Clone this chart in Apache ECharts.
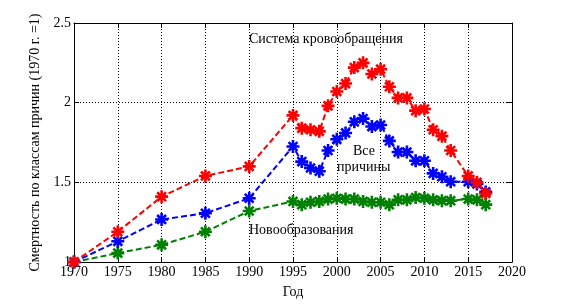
<!DOCTYPE html>
<html>
<head>
<meta charset="utf-8">
<script src="https://cdn.jsdelivr.net/npm/echarts@6/dist/echarts.min.js"></script>
<style>
  html, body { margin: 0; padding: 0; background: #fff; }
  #chart { width: 568px; height: 304px; }
</style>
</head>
<body>
<div id="chart"></div>
<script>
// годы наблюдений (2014 нет)
var years = [1970, 1975, 1980, 1985, 1990, 1995, 1996, 1997, 1998, 1999, 2000, 2001, 2002,
             2003, 2004, 2005, 2006, 2007, 2008, 2009, 2010, 2011, 2012, 2013, 2015, 2016, 2017];

// система кровообращения
var krov = [1.00, 1.19, 1.41, 1.54, 1.60, 1.92, 1.84, 1.83, 1.82, 1.98, 2.07, 2.12, 2.22,
            2.25, 2.18, 2.21, 2.10, 2.03, 2.03, 1.95, 1.96, 1.83, 1.79, 1.70, 1.54, 1.50, 1.43];
// все причины
var vse = [1.00, 1.13, 1.267, 1.306, 1.40, 1.725, 1.63, 1.59, 1.57, 1.70, 1.77, 1.81, 1.88,
           1.90, 1.85, 1.86, 1.76, 1.69, 1.69, 1.635, 1.635, 1.556, 1.535, 1.504, 1.504, 1.49, 1.44];
// новообразования
var novo = [1.00, 1.056, 1.108, 1.19, 1.32, 1.38, 1.36, 1.375, 1.38, 1.395, 1.40, 1.395, 1.395,
            1.38, 1.375, 1.375, 1.36, 1.39, 1.39, 1.405, 1.40, 1.39, 1.385, 1.385, 1.395, 1.39, 1.36];

var yTicks = { 1: '1', 1.5: '1.5', 2: '2', 2.5: '2.5' };

var chart = echarts.init(document.getElementById('chart'));

var FONT = '"Liberation Serif", "DejaVu Serif", serif';
var star = 'path://M0,5L10,5M5,0L5,10M1.6,1.6L8.4,8.4M1.6,8.4L8.4,1.6';

function pairs(vals) {
  return years.map(function (y, i) { return [y, vals[i]]; });
}

function ser(name, color, vals, z) {
  return {
    name: name,
    type: 'line',
    z: z,
    data: pairs(vals),
    symbol: star,
    symbolSize: 13,
    showAllSymbol: true,
    itemStyle: { color: 'none', borderColor: color, borderWidth: 2.6 },
    lineStyle: { color: color, width: 2, type: [6, 3] },
    animation: false
  };
}

var option = {
  backgroundColor: '#fff',
  animation: false,
  grid: { left: 74, right: 56, top: 23, bottom: 41 },
  xAxis: [{
    type: 'value', min: 1970, max: 2020, interval: 5,
    name: 'Год', nameLocation: 'middle', nameGap: 23,
    nameTextStyle: { fontFamily: FONT, fontSize: 14, color: '#000' },
    axisLine: { lineStyle: { color: '#000', width: 1 } },
    axisTick: { inside: true, length: 5, lineStyle: { color: '#000' } },
    axisLabel: { fontFamily: FONT, fontSize: 14, color: '#000', margin: 3,
      formatter: function (v) { return String(v); } },
    splitLine: { show: true, lineStyle: { color: '#000', type: [1, 2], width: 1 } }
  }, {
    type: 'value', min: 1970, max: 2020, interval: 5, position: 'top',
    axisLine: { show: true, lineStyle: { color: '#000', width: 1 } },
    axisTick: { inside: true, length: 5, lineStyle: { color: '#000' } },
    axisLabel: { show: false }, splitLine: { show: false }
  }],
  yAxis: [{
    type: 'value', min: 1, max: 2.5, interval: 0.5,
    name: 'Смертность по классам причин (1970 г. =1)', nameLocation: 'middle', nameGap: 30,
    nameTextStyle: { fontFamily: FONT, fontSize: 14, color: '#000' },
    axisLine: { show: true, lineStyle: { color: '#000', width: 1 } },
    axisTick: { inside: true, length: 5, lineStyle: { color: '#000' } },
    axisLabel: { fontFamily: FONT, fontSize: 14, color: '#000', margin: 3,
      formatter: function (v) { return yTicks[v] || ''; } },
    splitLine: { show: true, lineStyle: { color: '#000', type: [1, 2], width: 1 } }
  }, {
    type: 'value', min: 1, max: 2.5, interval: 0.5, position: 'right',
    axisLine: { show: true, lineStyle: { color: '#000', width: 1 } },
    axisTick: { inside: true, length: 5, lineStyle: { color: '#000' } },
    axisLabel: { show: false }, splitLine: { show: false }
  }],
  series: [
    ser('Новообразования', '#008000', novo, 2),
    ser('Все причины', '#0000ff', vse, 3),
    ser('Система кровообращения', '#ff0000', krov, 4)
  ],
  graphic: [
    { type: 'text', left: 249, top: 32,
      style: { text: 'Система кровообращения', font: '14px ' + FONT, fill: '#000' } },
    { type: 'text', left: 353, top: 144,
      style: { text: 'Все', font: '14px ' + FONT, fill: '#000' } },
    { type: 'text', left: 337, top: 160,
      style: { text: 'причины', font: '14px ' + FONT, fill: '#000' } },
    { type: 'text', left: 249, top: 223,
      style: { text: 'Новообразования', font: '14px ' + FONT, fill: '#000' } }
  ]
};

chart.setOption(option);
</script>
</body>
</html>
